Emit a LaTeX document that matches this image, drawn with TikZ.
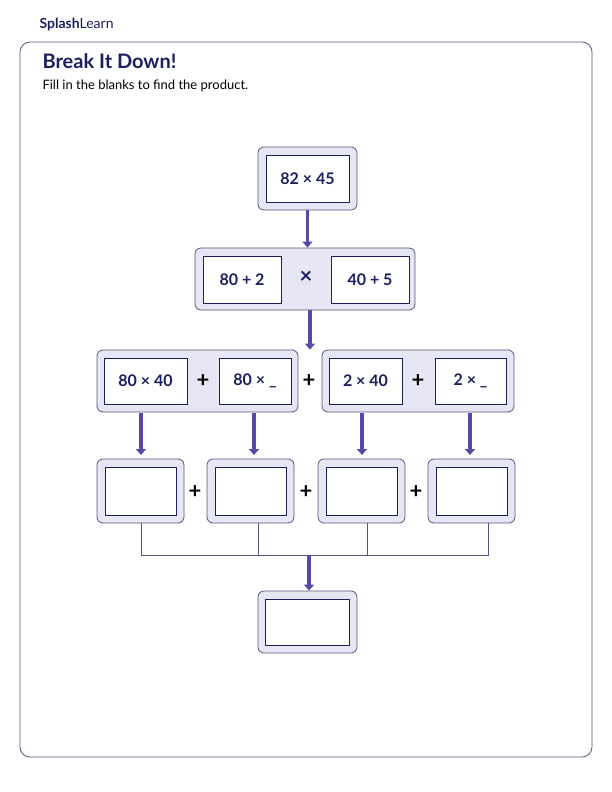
\documentclass[tikz,border=0pt]{standalone}
\usepackage{fontspec}
\setmainfont{Lato}
\usetikzlibrary{positioning, arrows.meta}
\definecolor{navy}{HTML}{1B1F5E}
\definecolor{lilac}{HTML}{E6E6F5}
\definecolor{edge}{HTML}{55557F}
\definecolor{arrowc}{HTML}{5B47A6}
\tikzset{
  holder/.style={draw=edge, fill=lilac, rounded corners=6pt, line width=0.8pt},
  slot/.style={draw=navy, fill=white, line width=1pt, font=\bfseries\fontsize{16}{18}\selectfont, text=navy},
  sign/.style={font=\bfseries\fontsize{22}{24}\selectfont, text=black},
  down/.style={draw=arrowc, line width=3.5pt, -{Triangle[length=6pt,width=10pt]}},
}
\begin{document}
\begin{tikzpicture}[x=1pt,y=-1pt]
\useasboundingbox (0,0) rectangle (612,792);
\node[anchor=west, font=\bfseries\fontsize{14}{16}\selectfont, text=navy] (logo) at (36,24) {Splash\mdseries Learn};
\draw[edge, line width=0.8pt, rounded corners=10pt] (20,42) rectangle (592,757);
\node[anchor=west, font=\bfseries\fontsize{20}{22}\selectfont, text=navy] (title) at (39,61) {Break It Down!};
\node[anchor=west, font=\fontsize{13}{15}\selectfont] (sub) at (39,86) {Fill in the blanks to find the product.};

% top
\node[holder, minimum width=99, minimum height=63] (top) at (307.5,178.5) {};
\node[slot, minimum width=83, minimum height=47] (q) at (top) {82 × 45};

% split
\node[holder, minimum width=220, minimum height=62] (split) at (305,279) {};
\node[slot, minimum width=78, minimum height=47] (s1) at (242,279.5) {80 + 2};
\node[slot, minimum width=78, minimum height=47] (s2) at (370,279.5) {40 + 5};
\node[sign, text=navy] (tm) at (306,277) {×};

% partial products
\node[holder, minimum width=201, minimum height=62] (pl) at (197.5,381) {};
\node[holder, minimum width=192, minimum height=62] (pr) at (418,381) {};
\node[slot, minimum width=83, minimum height=46] (a1) at (145.5,381) {80 × 40};
\node[slot, minimum width=72, minimum height=46] (a2) at (255,381) {80 × \_};
\node[slot, minimum width=73, minimum height=46] (a3) at (365.5,381) {2 × 40};
\node[slot, minimum width=71, minimum height=46] (a4) at (470.5,381) {2 × \_};
\node[sign] (p1) at (203,381) {+};
\node[sign] (p2) at (309,381) {+};
\node[sign] (p3) at (418,381) {+};

% answers
\foreach \i/\x in {1/140.5, 2/250.5, 3/361.5, 4/471.5} {
  \node[holder, minimum width=87, minimum height=64] (h\i) at (\x,491) {};
  \node[slot, minimum width=71, minimum height=48] (b\i) at (h\i) {};
}
\node[sign] (q1) at (195,492) {+};
\node[sign] (q2) at (306,492) {+};
\node[sign] (q3) at (416,492) {+};

% total
\node[holder, minimum width=99, minimum height=62] (tot) at (307.5,622) {};
\node[slot, minimum width=84, minimum height=46] (t) at (tot) {};

% arrows
\draw[down] (top.south) -- (top.south |- split.north);
\draw[down] ([xshift=5pt]split.south) -- ([xshift=5pt]split.south |- pl.north);
\draw[down] (141,413) -- (141,455);
\draw[down] (254,413) -- (254,455);
\draw[down] (362,413) -- (362,455);
\draw[down] (470,413) -- (470,455);

% join
\coordinate (j) at (309,555);
\draw[edge, line width=0.6pt] (141,523) -- (141,555) -- (488,555) -- (488,523);
\draw[edge, line width=0.6pt] (258,523) -- (258,555);
\draw[edge, line width=0.6pt] (367,523) -- (367,555);
\draw[down] (j) -- (j |- tot.north);
\end{tikzpicture}
\end{document}
